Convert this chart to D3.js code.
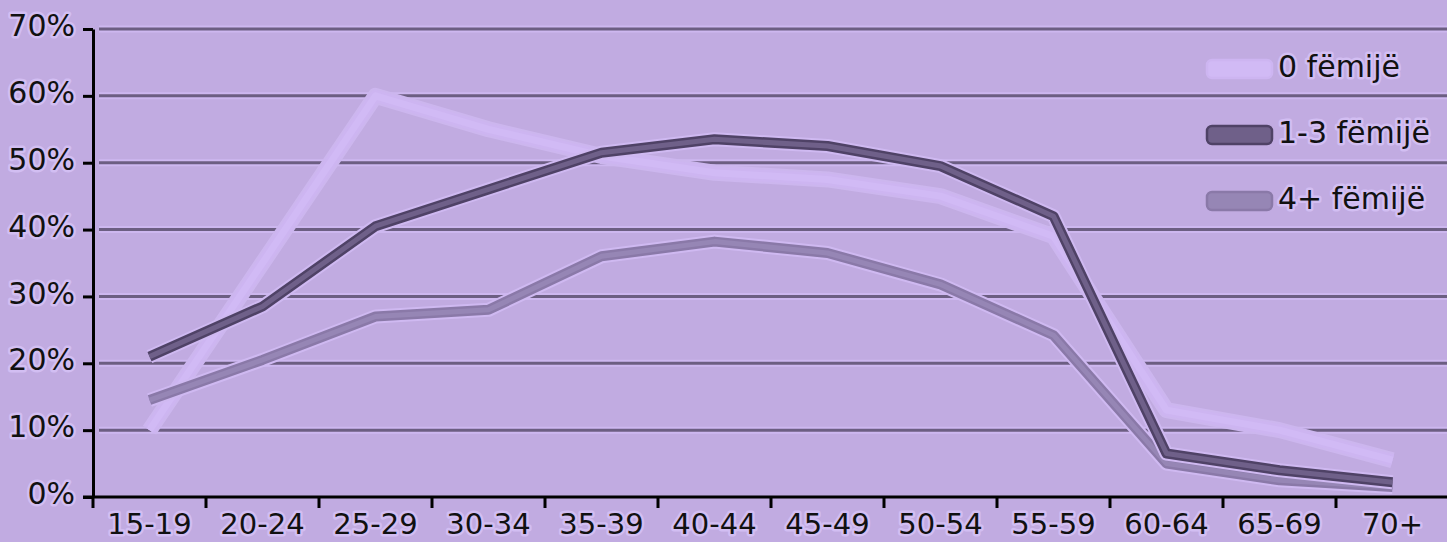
<!DOCTYPE html>
<html>
<head>
<meta charset="utf-8">
<script src="https://cdn.jsdelivr.net/npm/d3@7"></script>
<style>
  body { margin: 0; background: #c1abe1; }
  svg { display: block; }
  text { font-family: "DejaVu Sans", sans-serif; font-size: 30px; fill: #111; }
  .halo { paint-order: stroke; stroke: #d2bef2; stroke-width: 5px; stroke-linejoin: round; }
</style>
</head>
<body>
<div id="chart"></div>
<script>
const categories = ["15-19", "20-24", "25-29", "30-34", "35-39", "40-44", "45-49", "50-54", "55-59", "60-64", "65-69", "70+"];
const zeroChildren = [10, 35, 60, 55, 51, 48.5, 47.5, 45, 39, 13, 10, 5.5];
const oneToThree = [21, 28.5, 40.5, 46, 51.5, 53.5, 52.5, 49.5, 42, 6.5, 4, 2.2];
const fourPlus = [14.5, 20.5, 27, 28, 36, 38.2, 36.5, 31.8, 24.2, 5, 2.5, 1.5];
const seriesNames = ["0 fëmijë", "1-3 fëmijë", "4+ fëmijë"];
const yTicks = [0, 10, 20, 30, 40, 50, 60, 70];

const width = 1447, height = 542;

const svg = d3.select("#chart").append("svg")
    .attr("width", width)
    .attr("height", height);

svg.append("rect").attr("width", width).attr("height", height).attr("fill", "#c1abe1");

const x = d3.scaleBand().domain(categories).range([93, 1449]).padding(0);
const y = d3.scaleLinear().domain([0, 70]).range([497, 29]);
const cx = c => x(c) + x.bandwidth() / 2;

// gridlines with a light halo
const grid = svg.append("g");
yTicks.filter(t => t > 0).forEach(t => {
    grid.append("line").attr("x1", 99).attr("x2", width).attr("y1", y(t)).attr("y2", y(t))
        .attr("stroke", "#cdb7ef").attr("stroke-width", 7);
    grid.append("line").attr("x1", 99).attr("x2", width).attr("y1", y(t)).attr("y2", y(t))
        .attr("stroke", "#6c5e82").attr("stroke-width", 3);
});

// series lines (light first, dark on top)
const series = [
    { name: seriesNames[0], values: zeroChildren, halo: "#ccb6ee", edge: "#cdb5f1", core: "#d1baf5", w: 12 },
    { name: seriesNames[2], values: fourPlus, halo: "#cfb9f1", edge: "#8a79a8", core: "#9686b5", w: 10 },
    { name: seriesNames[1], values: oneToThree, halo: "#cfb9f1", edge: "#4f4266", core: "#6f6089", w: 10 }
];

const line = d3.line()
    .x((d, i) => cx(categories[i]))
    .y(d => y(d));

series.forEach(s => {
    svg.append("path").datum(s.values).attr("d", line).attr("fill", "none")
        .attr("stroke", s.halo).attr("stroke-width", s.w + 4).attr("stroke-linejoin", "round");
    svg.append("path").datum(s.values).attr("d", line).attr("fill", "none")
        .attr("stroke", s.edge).attr("stroke-width", s.w).attr("stroke-linejoin", "round");
    svg.append("path").datum(s.values).attr("d", line).attr("fill", "none")
        .attr("stroke", s.core).attr("stroke-width", s.w - 5).attr("stroke-linejoin", "round");
});

// y axis
const yAxis = d3.axisLeft(y).tickValues(yTicks).tickFormat(d => d + "%").tickSize(10).tickSizeOuter(0).tickPadding(8);
const gy = svg.append("g").attr("transform", "translate(93,0)").call(yAxis);
gy.select(".domain").attr("stroke", "#000").attr("stroke-width", 3);
gy.selectAll(".tick line").attr("stroke", "#000").attr("stroke-width", 3);
gy.selectAll(".tick text").attr("class", "halo").attr("dy", "0.22em")
    .style("font-size", "30px").style("font-family", "DejaVu Sans");

// x axis
svg.append("line").attr("x1", 83).attr("x2", width).attr("y1", y(0)).attr("y2", y(0))
    .attr("stroke", "#000").attr("stroke-width", 3);
svg.append("g").selectAll("line").data(categories).join("line")
    .attr("x1", d => x(d)).attr("x2", d => x(d))
    .attr("y1", y(0)).attr("y2", y(0) + 11)
    .attr("stroke", "#000").attr("stroke-width", 3);
svg.append("g").selectAll("text").data(categories).join("text")
    .attr("class", "halo")
    .attr("x", d => cx(d))
    .attr("y", 534)
    .attr("text-anchor", "middle")
    .style("font-size", "29px")
    .text(d => d);

// legend
const legendRows = [
    { name: seriesNames[0], s: series[0] },
    { name: seriesNames[1], s: series[2] },
    { name: seriesNames[2], s: series[1] }
];
const legend = svg.append("g");
legendRows.forEach((r, i) => {
    const ry = 69 + i * 66;
    legend.append("rect").attr("x", 1207).attr("y", ry - 9).attr("width", 65).attr("height", 18)
        .attr("rx", 5).attr("fill", r.s.core).attr("stroke", r.s.edge).attr("stroke-width", 2.5);
    legend.append("text").attr("class", "halo").attr("x", 1278).attr("y", ry + 8).text(r.name);
});
</script>
</body>
</html>
